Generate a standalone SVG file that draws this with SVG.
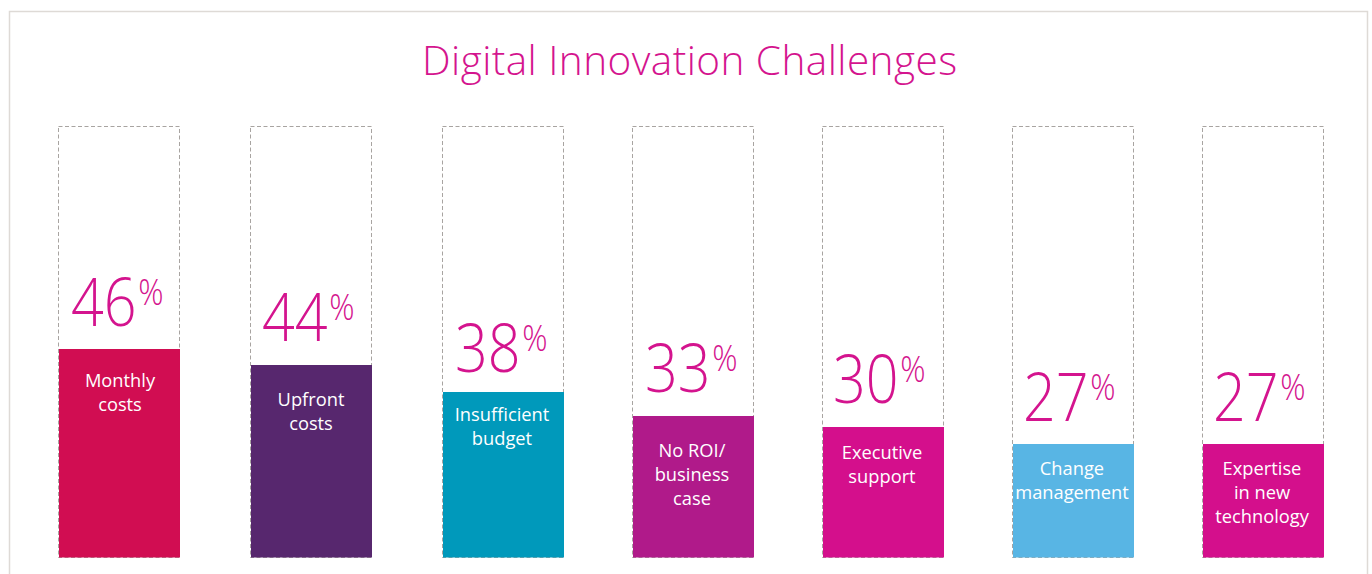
<svg xmlns="http://www.w3.org/2000/svg" width="1372" height="574" viewBox="0 0 1372 574">
<style>
.frame{fill:none;stroke:#dedad6;stroke-width:1.5}
.box{fill:none;stroke:#a8a4a1;stroke-width:1;stroke-dasharray:4 2.5}
.title{font-family:"Open Sans","Noto Sans",sans-serif;font-weight:300;font-size:40.5px;fill:#d4148e}
.num{font-family:"Open Sans","Noto Sans",sans-serif;font-weight:300;font-size:66px;fill:#d4148e}
.pct{font-size:36px}
.lbl{font-family:"Open Sans","Noto Sans",sans-serif;font-size:18.3px;fill:#ffffff;text-anchor:middle}
</style>
<rect class="frame" x="9.5" y="11.5" width="1358" height="600"/>
<text class="title" x="689.5" y="75" text-anchor="middle" textLength="535" lengthAdjust="spacing">Digital Innovation Challenges</text>

<g id="bar1">
<rect class="box" x="58.5" y="126.5" width="121" height="431"/>
<rect x="59" y="349" width="121" height="208.5" fill="#d10d52"/>
<text class="num" transform="translate(71,326) scale(0.87,1)">46<tspan class="pct" dx="2" dy="-21">%</tspan></text>
<text class="lbl" x="120" y="387"><tspan x="120">Monthly</tspan><tspan x="120" dy="24">costs</tspan></text>
</g>

<g id="bar2">
<rect class="box" x="250.5" y="126.5" width="121" height="431"/>
<rect x="251" y="365" width="121" height="192.5" fill="#57276e"/>
<text class="num" transform="translate(262,341) scale(0.87,1)">44<tspan class="pct" dx="2" dy="-21">%</tspan></text>
<text class="lbl" x="311" y="406"><tspan x="311">Upfront</tspan><tspan x="311" dy="24">costs</tspan></text>
</g>

<g id="bar3">
<rect class="box" x="442.5" y="126.5" width="121" height="431"/>
<rect x="443" y="392" width="121" height="165.5" fill="#0099bb"/>
<text class="num" transform="translate(455,372) scale(0.87,1)">38<tspan class="pct" dx="2" dy="-21">%</tspan></text>
<text class="lbl" x="502" y="421"><tspan x="502">Insufficient</tspan><tspan x="502" dy="24">budget</tspan></text>
</g>

<g id="bar4">
<rect class="box" x="632.5" y="126.5" width="121" height="431"/>
<rect x="633" y="416" width="121" height="141.5" fill="#b01a8a"/>
<text class="num" transform="translate(645,392) scale(0.87,1)">33<tspan class="pct" dx="2" dy="-21">%</tspan></text>
<text class="lbl" x="692" y="457"><tspan x="692">No ROI/</tspan><tspan x="692" dy="24">business</tspan><tspan x="692" dy="24">case</tspan></text>
</g>

<g id="bar5">
<rect class="box" x="822.5" y="126.5" width="121" height="431"/>
<rect x="823" y="427" width="121" height="130.5" fill="#d40f8c"/>
<text class="num" transform="translate(833,403) scale(0.87,1)">30<tspan class="pct" dx="2" dy="-21">%</tspan></text>
<text class="lbl" x="882" y="459"><tspan x="882">Executive</tspan><tspan x="882" dy="24">support</tspan></text>
</g>

<g id="bar6">
<rect class="box" x="1012.5" y="126.5" width="121" height="431"/>
<rect x="1013" y="444" width="121" height="113.5" fill="#58b5e4"/>
<text class="num" transform="translate(1023,421) scale(0.87,1)">27<tspan class="pct" dx="2" dy="-21">%</tspan></text>
<text class="lbl" x="1072" y="475"><tspan x="1072">Change</tspan><tspan x="1072" dy="24">management</tspan></text>
</g>

<g id="bar7">
<rect class="box" x="1202.5" y="126.5" width="121" height="431"/>
<rect x="1203" y="444" width="121" height="113.5" fill="#d40f8c"/>
<text class="num" transform="translate(1213,421) scale(0.87,1)">27<tspan class="pct" dx="2" dy="-21">%</tspan></text>
<text class="lbl" x="1262" y="475"><tspan x="1262">Expertise</tspan><tspan x="1262" dy="24">in new</tspan><tspan x="1262" dy="24">technology</tspan></text>
</g>

<g id="connectors"></g>
</svg>
